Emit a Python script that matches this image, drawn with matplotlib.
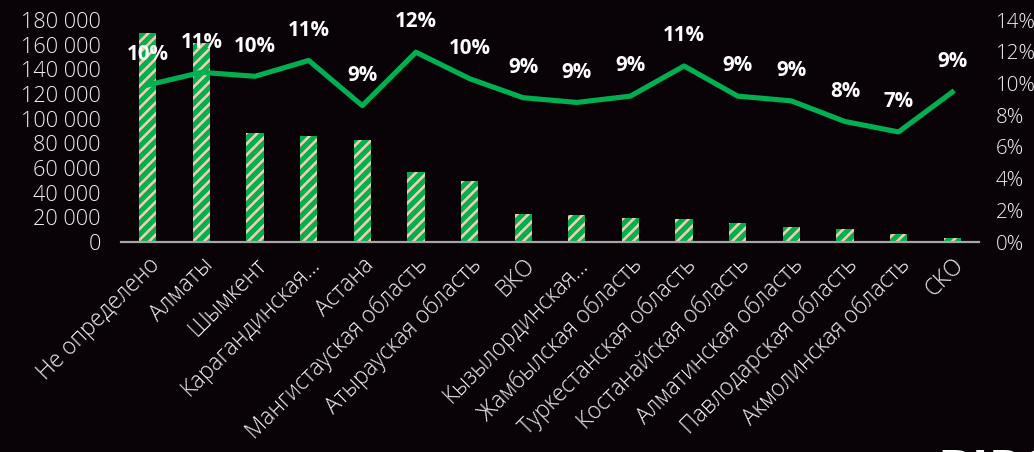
import numpy as np
import matplotlib
matplotlib.use("Agg")
import matplotlib.pyplot as plt
from matplotlib.ticker import FuncFormatter

# data
regions = ["Не определено", "Алматы", "Шымкент", "Карагандинская...", "Астана",
           "Мангистауская область", "Атырауская область", "ВКО", "Кызылординская...",
           "Жамбылская область", "Туркестанская область", "Костанайская область",
           "Алматинская область", "Павлодарская область", "Акмолинская область", "СКО"]
counts = [169500, 161000, 88400, 86000, 82700, 56800, 49500, 22700, 21900,
          19500, 18600, 15400, 12200, 10500, 6500, 3200]
share = [9.9, 10.7, 10.45, 11.45, 8.6, 11.97, 10.3, 9.1, 8.8,
         9.2, 11.1, 9.2, 8.9, 7.6, 6.94, 9.45]
left_ticks = [0, 20000, 40000, 60000, 80000, 100000, 120000, 140000, 160000, 180000]
right_ticks = [0, 2, 4, 6, 8, 10, 12, 14]

bg = "#090207"
green = "#00b050"
peach = "#f8cbad"
txt = "#f2f2f2"

DPI = 132
plt.rcParams["font.family"] = ["Open Sans", "DejaVu Sans"]
plt.rcParams["hatch.linewidth"] = 2.8

fig = plt.figure(figsize=(1034 / DPI, 452 / DPI), dpi=DPI, facecolor=bg)
ax = fig.add_axes([121 / 1034, 1 - 242 / 452, (979 - 121) / 1034, (242 - 20) / 452])
ax.set_facecolor(bg)

x = np.arange(len(regions))
ax.bar(x, counts, width=0.32, color=peach, edgecolor=green, linewidth=0,
       hatch="////", zorder=2)
ax.set_xlim(-0.5, len(regions) - 0.5)
ax.set_ylim(0, 180000)
ax.set_yticks(left_ticks)
ax.yaxis.set_major_formatter(FuncFormatter(lambda v, p: f"{int(v):,}".replace(",", " ")))
ax.set_xticks(x)
ax.set_xticklabels(regions, rotation=45, ha="right", rotation_mode="anchor",
                   fontweight="light")
for lab in ax.get_yticklabels():
    lab.set_fontweight("light")

for s in ["top", "right", "left"]:
    ax.spines[s].set_visible(False)
ax.spines["bottom"].set_color("#a6a6a6")
ax.spines["bottom"].set_linewidth(1.2)
ax.tick_params(axis="y", length=0, pad=11, labelsize=11.8, labelcolor=txt)
ax.tick_params(axis="x", length=0, pad=6, labelsize=12.3, labelcolor=txt)

ax2 = ax.twinx()
ax2.plot(x, share, color=green, linewidth=2.8, solid_joinstyle="round", zorder=3)
ax2.set_ylim(0, 14)
ax2.set_yticks(right_ticks)
ax2.set_yticklabels([f"{t}%" for t in right_ticks], fontweight="light")
for s in ["top", "right", "left", "bottom"]:
    ax2.spines[s].set_visible(False)
ax2.tick_params(axis="y", length=0, pad=9, labelsize=11.2, labelcolor=txt)

for xi, v in zip(x, share):
    ax2.annotate(f"{v:.0f}%", (xi, v), xytext=(0, 16.5), textcoords="offset points",
                 ha="center", va="center", color="white", fontsize=11.2,
                 fontweight="bold", zorder=4)

# cut-off logo in the corner
fig.text(937 / 1034, 1 - 448 / 452, "BIPO", color="white", fontsize=28,
         fontweight="bold", ha="left", va="top")

fig.savefig("out.png", dpi=DPI, facecolor=bg)
